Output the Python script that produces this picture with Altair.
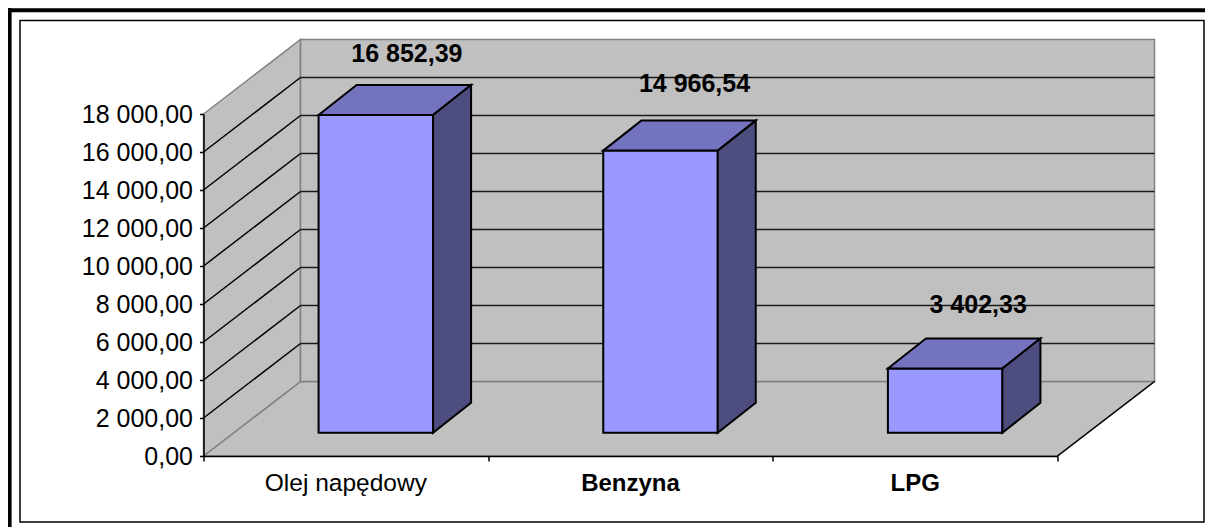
import altair as alt
import pandas as pd

categories = ["Olej napędowy", "Benzyna", "LPG"]
values = [16852.39, 14966.54, 3402.33]
value_labels = ["16 852,39", "14 966,54", "3 402,33"]
category_weights = ["normal", "bold", "bold"]
category_sizes = [24.5, 24, 24]
y_ticks = [2000 * k for k in range(10)]
x_ticks = [0, 1, 2, 3]

# layout: plot area is the front plane of the 3-D box
PW, PH = 854, 342
PAD_L, PAD_T = 195.5, 106
TOTAL_W, TOTAL_H = 1197, 519
YMAX = 18000
UX = 3 / PW            # x units per pixel
UY = YMAX / PH         # y units per pixel
WALL_DX, WALL_DY = 97 * UX, 74.5 * UY
BAR_OX, BAR_OY = 30 * UX, 23.3 * UY
BAR_DX, BAR_DY = 38 * UX, 30 * UY
BAR_W = 114.5 * UX
BAR_K = 0.992
LABEL_NUDGE = [(31, -61), (34, -67), (33, -64)]

FONT = "Liberation Sans"
label_expr = "replace(replace(format(datum.value, ',.2f'), ',', ' '), '.', ',')"
xs = alt.Scale(domain=[0, 3], range=[0, PW], nice=False)
ys = alt.Scale(domain=[0, YMAX], range=[PH, 0], nice=False)
x_axis = alt.Axis(
    values=x_ticks, title=None, labels=False, grid=False, domainColor="black",
    domainWidth=1.5, tickColor="black", tickWidth=1.5, tickSize=5, zindex=1)
y_axis = alt.Axis(
    values=y_ticks, title=None, grid=False, domainColor="black", domainWidth=1.5,
    tickColor="black", tickWidth=1.5, tickSize=4, labelPadding=7,
    labelFont=FONT, labelFontSize=25, labelColor="black",
    labelExpr=label_expr, labelFlush=False, labelOverlap=False, zindex=1)
X = lambda f="x": alt.X(f"{f}:Q", scale=xs, axis=x_axis)
Y = lambda f="y": alt.Y(f"{f}:Q", scale=ys, axis=y_axis)
WALL = "#C0C0C0"
EDGE = "#808080"

def vface(rows, color, stroke, sw=1.5):
    return alt.Chart(pd.DataFrame(rows)).mark_area(
        color=color, stroke=stroke, strokeWidth=sw, interpolate="linear"
    ).encode(x=X("x"), y=Y("y"), y2="y2:Q", detail="k:N")

def hface(rows, color, stroke, sw=1.5):
    return alt.Chart(pd.DataFrame(rows)).mark_area(
        color=color, stroke=stroke, strokeWidth=sw, orient="horizontal", interpolate="linear"
    ).encode(y=Y("y"), x=X("x"), x2="x2:Q", detail="k:N")

def lines(rows, color, sw=1.5):
    return alt.Chart(pd.DataFrame(rows)).mark_line(color=color, strokeWidth=sw).encode(
        x=X("x"), y=Y("y"), detail="k:N", order="o:Q")

# frames
frame = alt.Chart(alt.Data(values=[{}])).mark_rect(
    fill="white", stroke="black", strokeWidth=1.5
).encode(
    x=alt.value(20 - 8 - PAD_L), x2=alt.value(TOTAL_W - 1 - PAD_L),
    y=alt.value(20.5 - 8 - PAD_T), y2=alt.value(522 - 8 - PAD_T))
outer_top = alt.Chart(alt.Data(values=[{}])).mark_rule(color="black", strokeWidth=4).encode(
    x=alt.value(-PAD_L), x2=alt.value(TOTAL_W - PAD_L), y=alt.value(2.2 - PAD_T))
outer_left = alt.Chart(alt.Data(values=[{}])).mark_rule(color="black", strokeWidth=4).encode(
    x=alt.value(1.6 - PAD_L), y=alt.value(-PAD_T), y2=alt.value(TOTAL_H - PAD_T))

# walls and floor
floor = hface([
    {"k": 0, "y": 0, "x": 0, "x2": 3},
    {"k": 0, "y": WALL_DY, "x": WALL_DX, "x2": 3 + WALL_DX},
], WALL, EDGE)
side_wall = vface([
    {"k": 0, "x": 0, "y": 0, "y2": YMAX},
    {"k": 0, "x": WALL_DX, "y": WALL_DY, "y2": YMAX + WALL_DY},
], WALL, EDGE)
back_wall = vface([
    {"k": 0, "x": WALL_DX, "y": WALL_DY, "y2": YMAX + WALL_DY},
    {"k": 0, "x": 3 + WALL_DX, "y": WALL_DY, "y2": YMAX + WALL_DY},
], WALL, EDGE)

inner = y_ticks[1:-1]
side_grid_rows, back_grid_rows = [], []
for t in inner:
    side_grid_rows += [{"k": t, "o": 0, "x": 0, "y": t}, {"k": t, "o": 1, "x": WALL_DX, "y": t + WALL_DY}]
    back_grid_rows += [{"k": t, "o": 0, "x": WALL_DX, "y": t + WALL_DY}, {"k": t, "o": 1, "x": 3 + WALL_DX, "y": t + WALL_DY}]
side_grid = lines(side_grid_rows, "black")
back_grid = lines(back_grid_rows, "#1a1a1a")
right_edge = lines([
    {"k": 0, "o": 0, "x": 3, "y": 0},
    {"k": 0, "o": 1, "x": 3 + WALL_DX, "y": WALL_DY},
], "black")

# bars
front_rows, side_rows, top_rows, label_rows = [], [], [], []
for i, (v, lab) in enumerate(zip(values, value_labels)):
    x0 = i + 0.5 - BAR_W / 2 + BAR_OX
    x1 = x0 + BAR_W
    y0 = BAR_OY
    y1 = BAR_OY + v * BAR_K
    front_rows += [{"k": i, "x": x0, "y": y0, "y2": y1}, {"k": i, "x": x1, "y": y0, "y2": y1}]
    side_rows += [{"k": i, "x": x1, "y": y0, "y2": y1},
                  {"k": i, "x": x1 + BAR_DX, "y": y0 + BAR_DY, "y2": y1 + BAR_DY}]
    top_rows += [{"k": i, "y": y1, "x": x0, "x2": x1},
                 {"k": i, "y": y1 + BAR_DY, "x": x0 + BAR_DX, "x2": x1 + BAR_DX}]
    label_rows.append({"x": (x0 + x1) / 2, "y": y1, "t": lab,
                       "nx": LABEL_NUDGE[i][0], "ny": LABEL_NUDGE[i][1]})

front = vface(front_rows, "#9999FF", "black", 2)
side = vface(side_rows, "#4D4D80", "black", 2)
top = hface(top_rows, "#7373BF", "black", 2)

data_labels = [
    alt.Chart(pd.DataFrame([r])).mark_text(
        font=FONT, fontSize=25, fontWeight="bold", color="black",
        dx=r["nx"], dy=r["ny"], baseline="middle", align="center"
    ).encode(x=X("x"), y=Y("y"), text="t:N")
    for r in label_rows
]

cat_labels = [
    alt.Chart(pd.DataFrame([{"x": i + 0.5, "t": c}])).mark_text(
        font=FONT, fontSize=s, fontWeight=w, color="black", baseline="middle", align="center"
    ).encode(x=X("x"), y=alt.value(484 - 114), text="t:N")
    for i, (c, w, s) in enumerate(zip(categories, category_weights, category_sizes))
]

chart = alt.layer(
    frame, outer_top, outer_left, floor, side_wall, back_wall, side_grid, back_grid, right_edge,
    front, top, side, *data_labels, *cat_labels,
).properties(
    width=PW, height=PH,
    padding={"left": PAD_L, "top": PAD_T, "right": TOTAL_W - PAD_L - PW, "bottom": TOTAL_H - PAD_T - PH},
    autosize=alt.AutoSizeParams(type="none"),
    background="white",
).configure_view(stroke=None)

chart.save("out.html", embed_options={"renderer": "svg", "actions": False})
